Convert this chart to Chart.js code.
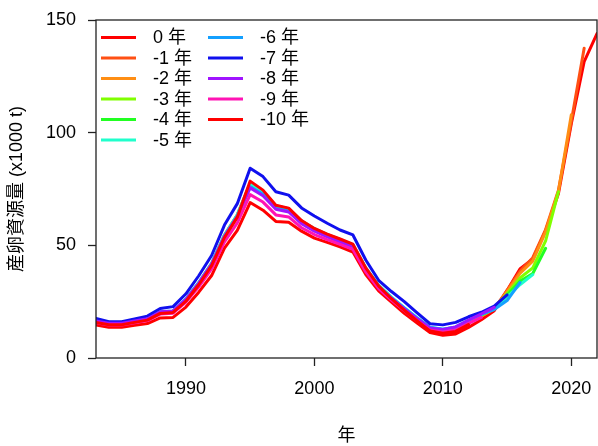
<!DOCTYPE html>
<html>
<head>
<meta charset="utf-8">
<title>産卵資源量</title>
<script src="https://cdn.jsdelivr.net/npm/chart.js@4.4.1/dist/chart.umd.min.js"></script>
<style>
    html, body { margin: 0; padding: 0; background: #fff; }
    #chart { display: block; }
</style>
</head>
<body>
<canvas id="chart" width="598" height="446"></canvas>
<script>
/**
 * Retrospective spawning stock biomass chart
 */
const years = [1983, 1984, 1985, 1986, 1987, 1988, 1989, 1990, 1991, 1992,
    1993, 1994, 1995, 1996, 1997, 1998, 1999, 2000, 2001, 2002,
    2003, 2004, 2005, 2006, 2007, 2008, 2009, 2010, 2011, 2012,
    2013, 2014, 2015, 2016, 2017, 2018, 2019, 2020, 2021, 2022];

// one array per terminal year (0 = latest, -10 = ten years back), values in 1000 t
const ssb0 = [14.6, 13.6, 13.6, 14.5, 15.3, 17.8, 18.0, 22.6, 29.2, 36.6,
    48.8, 56.6, 69.0, 65.6, 60.6, 60.2, 56.3, 53.2, 51.3, 49.3,
    47.0, 37.0, 29.8, 24.8, 19.8, 15.5, 11.3, 10.1, 10.7, 13.6,
    17.0, 21.0, 30.0, 39.5, 44.0, 56.5, 73.0, 104.0, 131.5, 144.0];
const ssb1 = [16.2, 15.2, 15.2, 16.2, 17.2, 20.4, 20.8, 26.1, 33.4, 42.0,
    54.6, 63.6, 77.5, 73.8, 67.5, 66.2, 60.8, 57.3, 54.8, 52.4,
    50.2, 39.8, 32.0, 26.6, 21.8, 17.2, 12.8, 11.8, 12.6, 15.6,
    18.5, 21.8, 30.0, 38.5, 44.5, 57.0, 74.5, 105.0, 137.5];
const ssb2 = [16.0, 15.0, 15.0, 16.0, 17.0, 20.2, 20.6, 25.8, 33.0, 41.6,
    54.0, 63.0, 76.5, 73.0, 66.8, 65.6, 60.3, 56.9, 54.4, 52.1,
    49.9, 39.6, 31.9, 26.5, 21.8, 17.3, 13.0, 12.1, 13.0, 15.9,
    18.7, 21.9, 29.5, 37.5, 43.0, 56.0, 74.0, 108.0];
const ssb3 = [16.1, 15.1, 15.1, 16.1, 17.1, 20.3, 20.7, 26.0, 33.2, 41.8,
    54.3, 63.3, 77.0, 73.4, 67.2, 65.9, 60.6, 57.1, 54.6, 52.3,
    50.0, 39.8, 32.0, 26.8, 22.0, 17.6, 13.3, 12.5, 13.4, 16.2,
    19.0, 22.0, 28.5, 35.5, 40.0, 52.0, 73.8];
const ssb4 = [16.0, 15.0, 15.0, 16.0, 17.0, 20.1, 20.5, 25.7, 32.9, 41.4,
    53.8, 62.8, 76.5, 72.8, 66.6, 65.4, 60.1, 56.7, 54.2, 51.9,
    49.7, 39.5, 31.8, 26.6, 21.9, 17.5, 13.3, 12.5, 13.4, 16.3,
    19.1, 22.0, 27.8, 34.0, 37.5, 48.7];
const ssb5 = [16.3, 15.3, 15.3, 16.3, 17.3, 20.5, 20.9, 26.2, 33.5, 42.0,
    54.5, 63.5, 77.5, 73.8, 67.6, 66.2, 60.8, 57.4, 54.9, 52.6,
    50.3, 40.0, 32.3, 27.0, 22.3, 17.9, 13.6, 12.8, 13.7, 16.6,
    19.4, 22.2, 27.0, 32.5, 37.0];
const ssb6 = [16.1, 15.1, 15.1, 16.1, 17.1, 20.3, 20.7, 25.9, 33.1, 41.6,
    54.0, 63.0, 76.0, 72.6, 66.4, 65.2, 59.9, 56.6, 54.1, 51.8,
    49.6, 39.4, 31.8, 26.7, 22.1, 17.7, 13.5, 12.8, 13.8, 16.7,
    19.4, 21.5, 25.5, 33.5];
const ssb7 = [17.6, 16.1, 16.1, 17.3, 18.6, 22.0, 22.8, 28.5, 36.5, 45.5,
    59.0, 68.5, 84.2, 80.5, 73.8, 72.3, 66.6, 63.0, 59.8, 56.8,
    54.6, 43.5, 34.5, 29.5, 25.0, 20.0, 15.2, 14.7, 15.8, 18.3,
    20.3, 23.0, 28.0];
const ssb8 = [16.4, 15.4, 15.4, 16.4, 17.4, 20.5, 20.9, 26.0, 33.2, 41.7,
    54.0, 62.8, 75.5, 72.0, 66.0, 64.8, 59.6, 56.3, 53.8, 51.6,
    49.4, 39.2, 31.6, 26.5, 21.9, 17.5, 13.3, 12.7, 13.8, 16.8,
    19.6, 22.5];
const ssb9 = [15.6, 14.6, 14.6, 15.6, 16.6, 19.5, 19.9, 24.8, 31.6, 39.6,
    51.5, 60.0, 72.5, 69.2, 63.5, 62.6, 57.8, 54.8, 52.5, 50.4,
    48.2, 38.2, 30.8, 25.7, 21.0, 16.6, 12.4, 11.6, 12.4, 15.4,
    18.0];
const ssb10 = [15.8, 14.8, 14.8, 15.8, 16.8, 19.8, 20.2, 25.2, 32.5, 41.0,
    53.5, 62.5, 78.5, 74.5, 67.8, 66.5, 61.0, 57.5, 55.0, 52.8,
    50.5, 40.0, 32.0, 26.3, 21.2, 16.5, 12.0, 11.0, 11.8, 14.8];

const seriesLabels = ['0 年', '-1 年', '-2 年', '-3 年', '-4 年', '-5 年',
    '-6 年', '-7 年', '-8 年', '-9 年', '-10 年'];
const xTicks = [1990, 2000, 2010, 2020];
const yTicks = [0, 50, 100, 150];

const colors = ['#FF0000', '#FF5014', '#FF8E14', '#80FF00', '#22FF22', '#20FFCC',
    '#14A0FF', '#1010EE', '#A014FF', '#FF14B4', '#FF0000'];
const FONT = '"Liberation Sans", Arial, "Noto Sans CJK JP", sans-serif';

const allSeries = [ssb0, ssb1, ssb2, ssb3, ssb4, ssb5, ssb6, ssb7, ssb8, ssb9, ssb10];

const datasets = allSeries.map((vals, i) => ({
    label: seriesLabels[i],
    data: vals.map((v, k) => ({ x: years[k], y: v })),
    borderColor: colors[i],
    backgroundColor: colors[i],
    borderWidth: 3,
    pointRadius: 0,
    borderJoinStyle: 'round',
    borderCapStyle: 'round',
    fill: false,
    // later series drawn on top, like the original plot
    order: allSeries.length - i
}));

// box, axis titles and the two-column legend
const decorPlugin = {
    id: 'decor',
    afterDraw(chart) {
        const ctx = chart.ctx;
        const a = chart.chartArea;
        ctx.save();
        ctx.strokeStyle = '#222';
        ctx.lineWidth = 1.3;
        ctx.strokeRect(a.left, a.top, a.right - a.left, a.bottom - a.top);

        ctx.fillStyle = '#000';
        ctx.font = '18px ' + FONT;
        ctx.textAlign = 'center';
        ctx.textBaseline = 'middle';
        ctx.fillText('年', (a.left + a.right) / 2, 436);

        ctx.save();
        ctx.translate(17, (a.top + a.bottom) / 2);
        ctx.rotate(-Math.PI / 2);
        ctx.fillText('産卵資源量 (x1000 t)', 0, 0);
        ctx.restore();

        ctx.textAlign = 'left';
        seriesLabels.forEach((lab, i) => {
            const col = i < 6 ? 0 : 1;
            const row = col === 0 ? i : i - 6;
            const x0 = col === 0 ? 101 : 208;
            const y = 37.5 + row * 20.5;
            ctx.strokeStyle = colors[i];
            ctx.lineWidth = 3;
            ctx.beginPath();
            ctx.moveTo(x0, y);
            ctx.lineTo(x0 + 35, y);
            ctx.stroke();
            ctx.fillText(lab, x0 + 52, y + 1);
        });
        ctx.restore();
    }
};

new Chart(document.getElementById('chart'), {
    type: 'line',
    data: { datasets },
    options: {
        responsive: false,
        animation: false,
        devicePixelRatio: 1,
        layout: { padding: { top: 20, right: 1, left: 0, bottom: 0 } },
        plugins: {
            legend: { display: false },
            tooltip: { enabled: false }
        },
        scales: {
            x: {
                type: 'linear',
                min: 1983,
                max: 2022,
                afterBuildTicks: s => { s.ticks = xTicks.map(v => ({ value: v })); },
                afterFit: s => {
                    s.height = 88;
                    s.paddingLeft = 0;
                    s.paddingRight = 0;
                },
                ticks: {
                    callback: v => String(v),
                    font: { size: 18, family: FONT },
                    color: '#000',
                    padding: 12,
                    maxRotation: 0,
                    autoSkip: false
                },
                grid: { drawOnChartArea: false, drawTicks: true, tickLength: 8, tickColor: '#222', tickWidth: 1.3 },
                border: { display: false }
            },
            y: {
                type: 'linear',
                min: 0,
                max: 150,
                afterBuildTicks: s => { s.ticks = yTicks.map(v => ({ value: v })); },
                afterFit: s => {
                    s.width = 96;
                    s.paddingTop = 0;
                    s.paddingBottom = 0;
                },
                ticks: {
                    font: { size: 18, family: FONT },
                    color: '#000',
                    padding: 12
                },
                grid: { drawOnChartArea: false, drawTicks: true, tickLength: 8, tickColor: '#222', tickWidth: 1.3 },
                border: { display: false }
            }
        }
    },
    plugins: [decorPlugin]
});
</script>
</body>
</html>
